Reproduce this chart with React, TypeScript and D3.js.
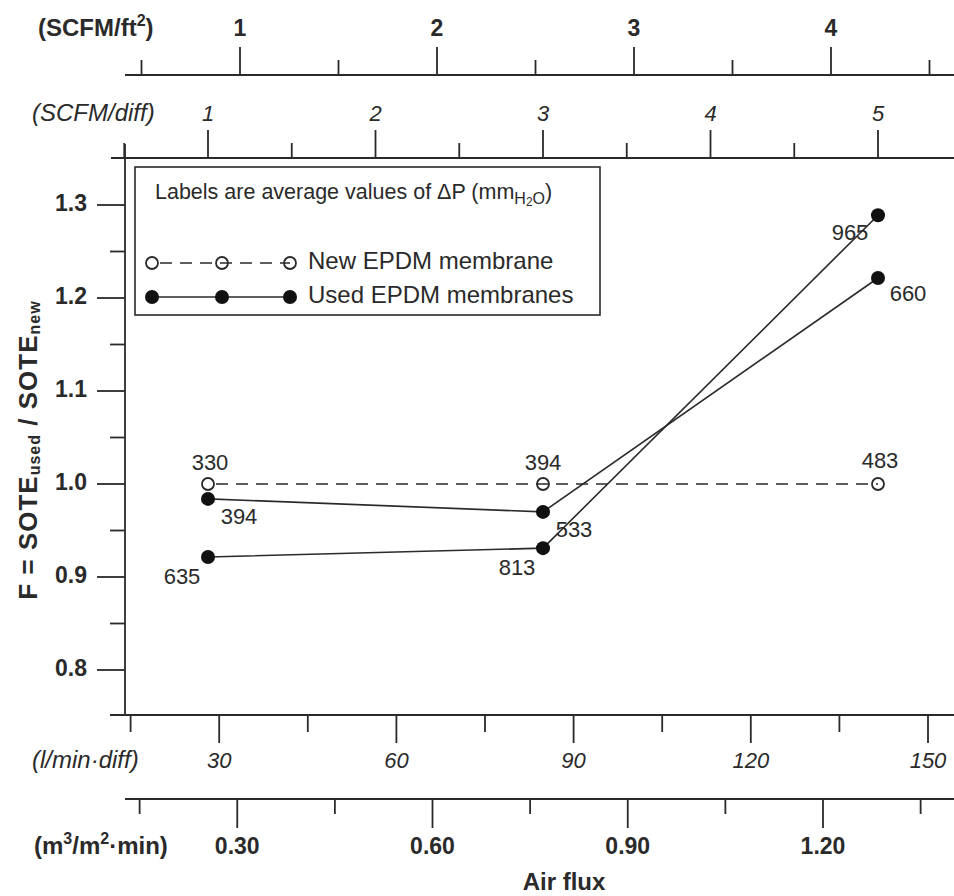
import React from "react";
import * as d3 from "d3";

// ---- data ----
const airflowScfmDiff = [1, 3, 5];
const newMembrane = [1.0, 1.0, 1.0];
const newLabels = ["330", "394", "483"];
const usedA = [0.984, 0.97, 1.2215];
const usedALabels = ["394", "533", "660"];
const usedB = [0.9215, 0.931, 1.289];
const usedBLabels = ["635", "813", "965"];

const yMajor = [0.8, 0.9, 1.0, 1.1, 1.2, 1.3];
const yMinor = [0.85, 0.95, 1.05, 1.15, 1.25];
const scfmFt2Major = [1, 2, 3, 4];
const scfmFt2Minor = [0.5, 1.5, 2.5, 3.5, 4.5];
const scfmDiffMajor = [1, 2, 3, 4, 5];
const scfmDiffMinor = [0.5, 1.5, 2.5, 3.5, 4.5, 5.5];
const lminMajor = [30, 60, 90, 120, 150];
const lminMinor = [15, 45, 75, 105, 135];
const m3Major = [0.3, 0.6, 0.9, 1.2];
const m3Minor = [0.15, 0.45, 0.75, 1.05, 1.35];

const W = 954;
const H = 896;
const INK = "#2a2a2a";
const FONT = "'Liberation Sans', Arial, Helvetica, sans-serif";

export default function App() {
  const x = d3.scaleLinear().domain([0, 6]).range([40.5, 40.5 + 6 * 167.5]);
  const xFt2 = d3.scaleLinear().domain([0, 5]).range([43, 43 + 5 * 197]);
  const xLmin = d3.scaleLinear().domain([0, 150]).range([42, 928]);
  const xM3 = d3.scaleLinear().domain([0, 1.2]).range([42, 823]);
  const y = d3.scaleLinear().domain([0.8, 1.3]).range([670, 205]);

  const axisX0 = 125;
  const frameTop = 158;
  const frameBottom = 715;
  const topAxis1 = 75;
  const botAxis2 = 799;

  const line = d3
    .line<[number, number]>()
    .x((d) => x(d[0]))
    .y((d) => y(d[1]));

  const pts = (vals: number[]) =>
    airflowScfmDiff.map((a, i) => [a, vals[i]] as [number, number]);

  const newOff = [[2, -20], [0, -20], [2, -22]];
  const aOff = [[31, 19], [31, 19], [30, 17]];
  const bOff = [[-26, 21], [-26, 21], [-28, 19]];

  const tickLabelStyle = { fontFamily: FONT, fontSize: 23, fontWeight: 700, fill: INK } as const;
  const unitBoldStyle = { fontFamily: FONT, fontSize: 24, fontWeight: 700, fill: INK } as const;
  const italicStyle = { fontFamily: FONT, fontSize: 22, fontStyle: "italic", fill: INK } as const;
  const unitItalicStyle = { fontFamily: FONT, fontSize: 24, fontStyle: "italic", fill: INK } as const;

  return (
    <svg
      width={W}
      height={H}
      viewBox={`0 0 ${W} ${H}`}
      style={{ position: "absolute", left: 0, top: 0, background: "#fff" }}
    >
      <rect x={0} y={0} width={W} height={H} fill="#fff" />
      <g stroke={INK} strokeWidth={1.8} fill="none">
        {/* top axis 1: SCFM/ft2 */}
        <line x1={125} x2={W} y1={topAxis1} y2={topAxis1} />
        {scfmFt2Major.map((v) => (
          <line key={"fa" + v} x1={xFt2(v)} x2={xFt2(v)} y1={topAxis1} y2={topAxis1 - 28} />
        ))}
        {scfmFt2Minor.map((v) => (
          <line key={"fb" + v} x1={xFt2(v)} x2={xFt2(v)} y1={topAxis1} y2={topAxis1 - 15} />
        ))}
        {/* top axis 2: SCFM/diff (frame top) */}
        <line x1={111} x2={W} y1={frameTop} y2={frameTop} />
        {scfmDiffMajor.map((v) => (
          <line key={"da" + v} x1={x(v)} x2={x(v)} y1={frameTop} y2={frameTop - 28} />
        ))}
        {scfmDiffMinor.map((v) => (
          <line key={"db" + v} x1={x(v)} x2={x(v)} y1={frameTop} y2={frameTop - 15} />
        ))}
        {/* y axis */}
        <line x1={axisX0} x2={axisX0} y1={144} y2={frameBottom} />
        {yMajor.map((v) => (
          <line key={"ya" + v} x1={axisX0 - 28} x2={axisX0} y1={y(v)} y2={y(v)} />
        ))}
        {yMinor.map((v) => (
          <line key={"yb" + v} x1={axisX0 - 15} x2={axisX0} y1={y(v)} y2={y(v)} />
        ))}
        {/* bottom axis 1: l/min diff (frame bottom) */}
        <line x1={110} x2={W} y1={frameBottom} y2={frameBottom} />
        {lminMajor.map((v) => (
          <line key={"la" + v} x1={xLmin(v)} x2={xLmin(v)} y1={frameBottom} y2={frameBottom + 28} />
        ))}
        {lminMinor.map((v) => (
          <line key={"lb" + v} x1={xLmin(v)} x2={xLmin(v)} y1={frameBottom} y2={frameBottom + 17} />
        ))}
        {/* bottom axis 2: m3/m2 min */}
        <line x1={125} x2={W} y1={botAxis2} y2={botAxis2} />
        {m3Major.map((v) => (
          <line key={"ma" + v} x1={xM3(v)} x2={xM3(v)} y1={botAxis2} y2={botAxis2 + 29} />
        ))}
        {m3Minor.map((v) => (
          <line key={"mb" + v} x1={xM3(v)} x2={xM3(v)} y1={botAxis2} y2={botAxis2 + 15} />
        ))}
      </g>

      {/* axis labels */}
      <g>
        <text x={38} y={30} dominantBaseline="middle" style={unitBoldStyle}>
          (SCFM/ft<tspan fontSize={16} dy={-8}>2</tspan>
          <tspan dy={8}>)</tspan>
        </text>
        {scfmFt2Major.map((v) => (
          <text key={"tf" + v} x={xFt2(v)} y={30} textAnchor="middle" dominantBaseline="middle" style={tickLabelStyle}>
            {v}
          </text>
        ))}
        <text x={32} y={115} dominantBaseline="middle" style={unitItalicStyle}>
          (SCFM/diff)
        </text>
        {scfmDiffMajor.map((v) => (
          <text key={"td" + v} x={x(v)} y={115} textAnchor="middle" dominantBaseline="middle" style={italicStyle}>
            {v}
          </text>
        ))}
        {yMajor.map((v) => (
          <text key={"ty" + v} x={87} y={y(v)} textAnchor="end" dominantBaseline="middle" style={tickLabelStyle}>
            {v.toFixed(1)}
          </text>
        ))}
        <text
          transform={`translate(30, ${450}) rotate(-90)`}
          textAnchor="middle"
          dominantBaseline="middle"
          style={{ ...tickLabelStyle, fontSize: 26, letterSpacing: 1 }}
        >
          F = SOTE<tspan fontSize={16} dy={6}>used</tspan>
          <tspan dy={-6}> / SOTE</tspan>
          <tspan fontSize={16} dy={6}>new</tspan>
        </text>
        <text x={32} y={762} dominantBaseline="middle" style={unitItalicStyle}>
          (l/min·diff)
        </text>
        {lminMajor.map((v) => (
          <text key={"tl" + v} x={xLmin(v)} y={762} textAnchor="middle" dominantBaseline="middle" style={italicStyle}>
            {v}
          </text>
        ))}
        <text x={34} y={848} dominantBaseline="middle" style={unitBoldStyle}>
          (m<tspan fontSize={16} dy={-8}>3</tspan>
          <tspan dy={8}>/m</tspan>
          <tspan fontSize={16} dy={-8}>2</tspan>
          <tspan dy={8}>·min)</tspan>
        </text>
        {m3Major.map((v) => (
          <text key={"tm" + v} x={xM3(v)} y={848} textAnchor="middle" dominantBaseline="middle" style={tickLabelStyle}>
            {v.toFixed(2)}
          </text>
        ))}
        <text x={564} y={884} textAnchor="middle" dominantBaseline="middle" style={unitBoldStyle}>
          Air flux
        </text>
      </g>

      {/* legend */}
      <g>
        <rect x={135} y={167} width={465} height={148} fill="#fff" stroke={INK} strokeWidth={1.6} />
        <text x={155} y={193} dominantBaseline="middle" style={{ fontFamily: FONT, fontSize: 21.5, fill: INK }}>
          Labels are average values of ΔP (mm
          <tspan fontSize={16} dy={7}>H</tspan>
          <tspan fontSize={12} dy={3}>2</tspan>
          <tspan fontSize={16} dy={-3}>O</tspan>
          <tspan dy={-7}>)</tspan>
        </text>
        <line x1={152} x2={290} y1={263} y2={263} stroke={INK} strokeWidth={1.6} strokeDasharray="12,8" strokeDashoffset={-8} />
        {[152, 222, 290].map((cx) => (
          <circle key={"lo" + cx} cx={cx} cy={263} r={6} fill="none" stroke={INK} strokeWidth={1.8} />
        ))}
        <text x={308} y={263} dominantBaseline="middle" style={{ fontFamily: FONT, fontSize: 24, fill: INK }}>
          New EPDM membrane
        </text>
        <line x1={152} x2={290} y1={297} y2={297} stroke={INK} strokeWidth={1.6} />
        {[152, 222, 290].map((cx) => (
          <circle key={"lf" + cx} cx={cx} cy={297} r={7} fill="#111" />
        ))}
        <text x={308} y={297} dominantBaseline="middle" style={{ fontFamily: FONT, fontSize: 24, fill: INK }}>
          Used EPDM membranes
        </text>
      </g>

      {/* data */}
      <g>
        <path d={line(pts(newMembrane)) || ""} fill="none" stroke={INK} strokeWidth={1.6} strokeDasharray="12,8" strokeDashoffset={-8} />
        <path d={line(pts(usedA)) || ""} fill="none" stroke={INK} strokeWidth={1.6} />
        <path d={line(pts(usedB)) || ""} fill="none" stroke={INK} strokeWidth={1.6} />
        {pts(newMembrane).map((p, i) => (
          <circle key={"n" + i} cx={x(p[0])} cy={y(p[1])} r={6} fill="none" stroke={INK} strokeWidth={1.8} />
        ))}
        {[...pts(usedA), ...pts(usedB)].map((p, i) => (
          <circle key={"u" + i} cx={x(p[0])} cy={y(p[1])} r={7} fill="#111" />
        ))}
        {[
          { vals: newMembrane, labels: newLabels, off: newOff },
          { vals: usedA, labels: usedALabels, off: aOff },
          { vals: usedB, labels: usedBLabels, off: bOff },
        ].map((s, si) =>
          pts(s.vals).map((p, i) => (
            <text
              key={"dl" + si + i}
              x={x(p[0]) + s.off[i][0]}
              y={y(p[1]) + s.off[i][1]}
              textAnchor="middle"
              dominantBaseline="middle"
              style={{ fontFamily: FONT, fontSize: 22, fill: INK }}
            >
              {s.labels[i]}
            </text>
          ))
        )}
      </g>
    </svg>
  );
}
